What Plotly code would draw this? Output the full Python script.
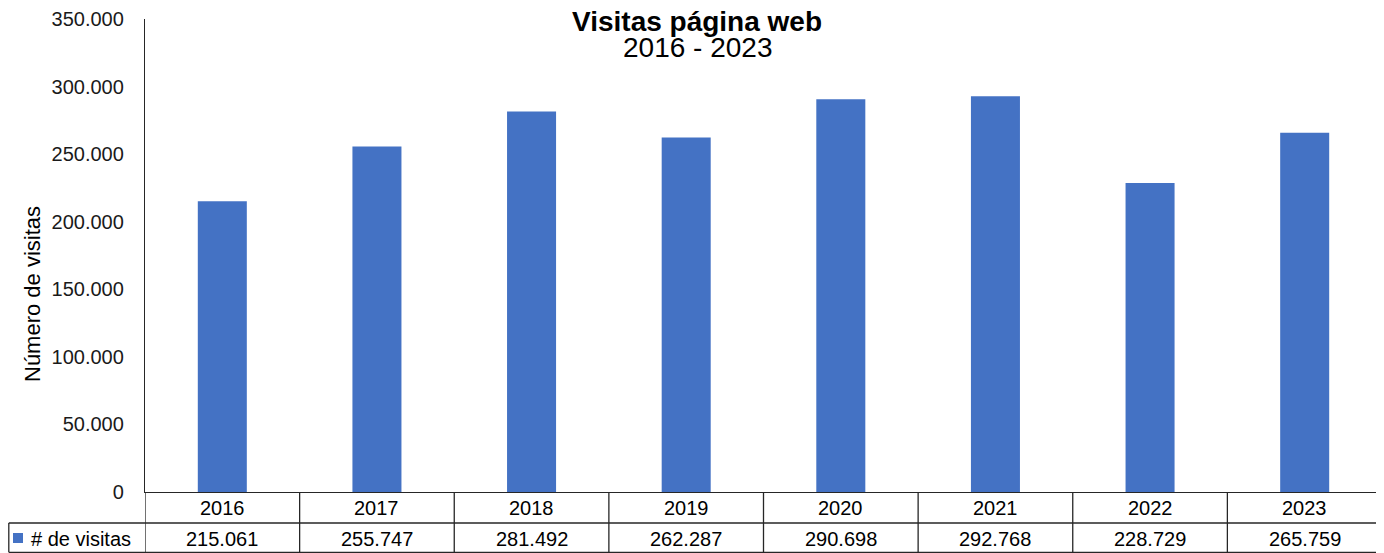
import plotly.graph_objects as go

years = ["2016", "2017", "2018", "2019", "2020", "2021", "2022", "2023"]
visitas = [215061, 255747, 281492, 262287, 290698, 292768, 228729, 265759]
value_labels = ["215.061", "255.747", "281.492", "262.287", "290.698", "292.768", "228.729", "265.759"]
series_name = "# de visitas"
title_text = "Visitas página web"
subtitle_text = "2016 - 2023"
y_title = "Número de visitas"

BLUE = "#4472C4"
FONT = "Liberation Sans, Arial, Helvetica, sans-serif"
LINE_C = "#262626"

# page body has an 8px margin; design in viewport pixels
OFF = 8
VW, VH = 1384, 553
W, H = VW - OFF, VH - OFF
PL, PR, PT, PB = 145, 1382, 19, 492  # plot area in viewport px
ml, mr, mt, mb = PL - OFF, (W + OFF) - PR, PT - OFF, (H + OFF) - PB
plot_h = PB - PT
plot_w = PR - PL

def py(v):
    return (PB - v) / plot_h

def px(v):
    return (v - PL) / plot_w

fig = go.Figure()
fig.add_trace(go.Bar(x=list(range(len(years))), y=visitas,
                     marker=dict(color=BLUE, line=dict(width=0)),
                     width=0.317, name=series_name, showlegend=False))

row1_mid = py(507.5)
row1_bot = py(523)
row2_mid = py(538.5)
row2_bot = py(552.3)

shapes = []
line = dict(color=LINE_C, width=1.3)
n = len(years)
for i in range(n + 1):
    shapes.append(dict(type="line", xref="x", yref="paper", x0=i - 0.5, x1=i - 0.5,
                       y0=0, y1=row2_bot, line=line))
left_x = px(OFF + 0.8)
shapes.append(dict(type="line", xref="paper", yref="paper", x0=left_x, x1=1,
                   y0=row1_bot, y1=row1_bot, line=line))
shapes.append(dict(type="line", xref="paper", yref="paper", x0=left_x, x1=1,
                   y0=row2_bot, y1=row2_bot, line=line))
shapes.append(dict(type="line", xref="paper", yref="paper", x0=left_x, x1=left_x,
                   y0=row1_bot, y1=row2_bot, line=line))
shapes.append(dict(type="rect", xref="paper", yref="paper", x0=px(13), x1=px(23),
                   y0=py(543), y1=py(533), fillcolor=BLUE, line=dict(width=0)))

tfont = dict(family=FONT, size=20, color="black")
annotations = []
for i, (y, lab) in enumerate(zip(years, value_labels)):
    annotations.append(dict(x=i, xref="x", y=row1_mid, yref="paper", text=y, showarrow=False,
                            font=tfont, xanchor="center", yanchor="middle"))
    annotations.append(dict(x=i, xref="x", y=row2_mid, yref="paper", text=lab, showarrow=False,
                            font=tfont, xanchor="center", yanchor="middle"))
annotations.append(dict(x=px(29), xref="paper", y=row2_mid, yref="paper", text=series_name,
                        showarrow=False, font=tfont, xanchor="left", yanchor="middle"))
annotations.append(dict(x=px(697), xref="paper", y=py(21), yref="paper",
                        text="<b>" + title_text + "</b>", showarrow=False,
                        font=dict(family=FONT, size=28, color="black"),
                        xanchor="center", yanchor="middle"))
annotations.append(dict(x=px(697), xref="paper", y=py(47.5), yref="paper",
                        text=subtitle_text, showarrow=False,
                        font=dict(family=FONT, size=28, color="black"),
                        xanchor="center", yanchor="middle"))
annotations.append(dict(x=px(33), xref="paper", y=py(294), yref="paper",
                        text=y_title, textangle=-90, showarrow=False,
                        font=dict(family=FONT, size=22, color="black"),
                        xanchor="center", yanchor="middle"))

fig.update_layout(
    width=W, height=H,
    margin=dict(l=ml, r=mr, t=mt, b=mb, autoexpand=False),
    paper_bgcolor="white", plot_bgcolor="white",
    separators=",.",
    shapes=shapes, annotations=annotations,
    font=dict(family=FONT, color="black"),
    showlegend=False,
)
fig.update_xaxes(range=[-0.5, n - 0.5], showticklabels=False, ticks="",
                 showgrid=False, showline=True, linecolor=LINE_C, linewidth=1.3,
                 zeroline=False, fixedrange=True)
fig.update_yaxes(range=[0, 350000], dtick=50000, tickformat=",d", showgrid=False,
                 showline=True, linecolor=LINE_C, linewidth=1.3, zeroline=False,
                 ticks="outside", ticklen=16, tickcolor="rgba(0,0,0,0)",
                 tickfont=dict(family=FONT, size=20, color="#1a1a1a"),
                 automargin=False, fixedrange=True)

fig.write_html("out.html")
